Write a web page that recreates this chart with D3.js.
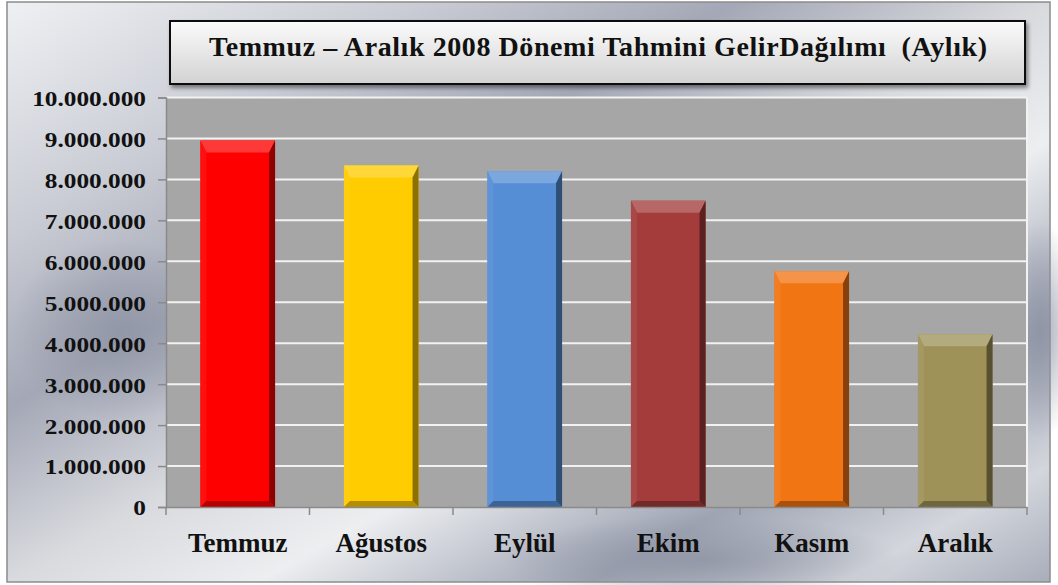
<!DOCTYPE html>
<html>
<head>
<meta charset="utf-8">
<script src="https://cdn.jsdelivr.net/npm/d3@7"></script>
<style>
  body { margin: 0; background: #ffffff; }
  text { font-family: "Liberation Serif", "Times New Roman", serif; font-weight: bold; fill: #111; }
</style>
</head>
<body>
<svg class="chart"></svg>
<script>
/*Chart data*/
const months = ["Temmuz", "Ağustos", "Eylül", "Ekim", "Kasım", "Aralık"]
const income = [8950000, 8340000, 8200000, 7480000, 5760000, 4220000]
const barColors = ["#ff0000", "#ffcc00", "#558ed5", "#a33c3a", "#f27514", "#9e9259"]
const yTicks = [0, 1e6, 2e6, 3e6, 4e6, 5e6, 6e6, 7e6, 8e6, 9e6, 1e7]
const title = "Temmuz – Aralık 2008 Dönemi Tahmini GelirDağılımı  (Aylık)"

const width = 1058, height = 585
const plot = { left: 166, right: 1027, top: 97.5, bottom: 507 }

var svg = d3.select(".chart")
    .attr("width", width)
    .attr("height", height)

var defs = svg.append("defs")

/*Silver background gradient*/
var bg = defs.append("linearGradient")
    .attr("id", "bgGrad")
    .attr("x1", "0").attr("y1", "0").attr("x2", "1").attr("y2", "1")
;[["0", "#eef0f3"], ["0.2", "#c9ccd4"], ["0.35", "#a4a8b6"], ["0.5", "#d8dade"],
  ["0.62", "#eceef0"], ["0.78", "#9fa4b3"], ["0.9", "#d3d6dc"], ["1", "#a8adba"]]
  .forEach(s => bg.append("stop").attr("offset", s[0]).attr("stop-color", s[1]))

var spot = defs.append("radialGradient").attr("id", "spotGrad")
spot.append("stop").attr("offset", "0").attr("stop-color", "#8d92a3").attr("stop-opacity", 0.8)
spot.append("stop").attr("offset", "1").attr("stop-color", "#8d92a3").attr("stop-opacity", 0)

var titleGrad = defs.append("linearGradient")
    .attr("id", "titleGrad")
    .attr("x1", "0").attr("y1", "0").attr("x2", "0").attr("y2", "1")
titleGrad.append("stop").attr("offset", "0").attr("stop-color", "#fbfbfb")
titleGrad.append("stop").attr("offset", "1").attr("stop-color", "#d2d2d2")

var shadow = defs.append("filter").attr("id", "shadow")
    .attr("x", "-5%").attr("y", "-20%").attr("width", "110%").attr("height", "150%")
shadow.append("feDropShadow").attr("dx", 2).attr("dy", 3).attr("stdDeviation", 2)
    .attr("flood-color", "#000").attr("flood-opacity", 0.45)

/*Chart area background*/
svg.append("rect")
    .attr("x", 7).attr("y", 2).attr("width", 1043).attr("height", 580)
    .attr("fill", "url(#bgGrad)")
    .attr("stroke", "#8c8c8c").attr("stroke-width", 1.5)

svg.append("ellipse").attr("cx", 120).attr("cy", 330).attr("rx", 110).attr("ry", 90)
    .attr("fill", "url(#spotGrad)")
svg.append("ellipse").attr("cx", 700).attr("cy", 560).attr("rx", 200).attr("ry", 45)
    .attr("fill", "url(#spotGrad)")
svg.append("ellipse").attr("cx", 1040).attr("cy", 330).attr("rx", 40).attr("ry", 110)
    .attr("fill", "url(#spotGrad)")

/*Scales*/
var x = d3.scaleBand()
    .domain(months)
    .range([plot.left, plot.right])
    .paddingInner(0.48)
    .paddingOuter(0.24)

var y = d3.scaleLinear()
    .domain([0, 1e7])
    .range([plot.bottom, plot.top])

/*Plot area*/
svg.append("rect")
    .attr("x", plot.left).attr("y", plot.top)
    .attr("width", plot.right - plot.left).attr("height", plot.bottom - plot.top)
    .attr("fill", "#a6a6a6")

/*Gridlines*/
svg.append("g")
    .selectAll("line")
    .data(yTicks.slice(1))
    .enter()
    .append("line")
      .attr("x1", plot.left).attr("x2", plot.right)
      .attr("y1", d => y(d)).attr("y2", d => y(d))
      .attr("stroke", "#f2f2f2").attr("stroke-width", 2)

svg.append("line")
    .attr("x1", plot.right).attr("x2", plot.right)
    .attr("y1", plot.top).attr("y2", plot.bottom)
    .attr("stroke", "#f2f2f2").attr("stroke-width", 2)

/*Bars with a bevel look*/
var bw = x.bandwidth(), bx = 6, btop = 12, bbot = 6
var bars = svg.append("g")
    .selectAll("g")
    .data(months)
    .enter()
    .append("g")

bars.append("rect")
    .attr("x", d => x(d))
    .attr("y", (d, i) => y(income[i]))
    .attr("width", bw)
    .attr("height", (d, i) => y(0) - y(income[i]))
    .attr("fill", (d, i) => barColors[i])

function poly (pts) { return pts.map(p => p.join(",")).join(" ") }

/*top bevel*/
bars.append("polygon")
    .attr("points", (d, i) => {
      var l = x(d), r = x(d) + bw, t = y(income[i])
      return poly([[l, t], [r, t], [r - bx, t + btop], [l + bx, t + btop]])
    })
    .attr("fill", (d, i) => d3.interpolateRgb(barColors[i], "#ffffff")(0.22))
/*left bevel*/
bars.append("polygon")
    .attr("points", (d, i) => {
      var l = x(d), t = y(income[i]), b = y(0)
      return poly([[l, t], [l + bx, t + btop], [l + bx, b - bbot], [l, b]])
    })
    .attr("fill", (d, i) => d3.interpolateRgb(barColors[i], "#ffffff")(0.06))
/*right bevel*/
bars.append("polygon")
    .attr("points", (d, i) => {
      var r = x(d) + bw, t = y(income[i]), b = y(0)
      return poly([[r, t], [r - bx, t + btop], [r - bx, b - bbot], [r, b]])
    })
    .attr("fill", (d, i) => d3.interpolateRgb(barColors[i], "#000000")(0.45))
/*bottom bevel*/
bars.append("polygon")
    .attr("points", (d, i) => {
      var l = x(d), r = x(d) + bw, b = y(0)
      return poly([[l, b], [l + bx, b - bbot], [r - bx, b - bbot], [r, b]])
    })
    .attr("fill", (d, i) => d3.interpolateRgb(barColors[i], "#000000")(0.3))

/*Y axis*/
var fmt = d3.formatLocale({ decimal: ",", thousands: ".", grouping: [3], currency: ["", ""] }).format(",")
var yAxis = svg.append("g")
    .attr("transform", "translate(" + plot.left + ",0)")
    .call(d3.axisLeft(y).tickValues(yTicks).tickSize(8).tickPadding(12).tickFormat(fmt))
yAxis.select(".domain").attr("stroke", "#8a8a8a").attr("stroke-width", 1.5)
yAxis.selectAll(".tick line").attr("stroke", "#8a8a8a").attr("stroke-width", 1.5)
yAxis.selectAll(".tick text")
    .style("font-size", "22px")
    .style("font-family", "Liberation Serif")
    .attr("fill", "#111")
    .attr("dy", "0.36em")
    .each(function () {
      var w = this.getComputedTextLength()
      d3.select(this).attr("textLength", w * 1.15).attr("lengthAdjust", "spacingAndGlyphs")
    })

/*X axis*/
var xAxis = svg.append("g")
    .attr("transform", "translate(0," + plot.bottom + ")")
    .call(d3.axisBottom(x).tickSize(0).tickPadding(37))
xAxis.select(".domain").attr("stroke", "#8a8a8a").attr("stroke-width", 1.5)
xAxis.selectAll(".tick text")
    .style("font-size", "27px")
    .style("font-family", "Liberation Serif")
    .attr("fill", "#111")
    .attr("dy", "0.3em")

/*tick marks between categories*/
xAxis.append("g")
    .selectAll("line")
    .data(months.concat(["end"]))
    .enter()
    .append("line")
      .attr("x1", (d, i) => plot.left + i * x.step())
      .attr("x2", (d, i) => plot.left + i * x.step())
      .attr("y1", 0).attr("y2", 8)
      .attr("stroke", "#8a8a8a").attr("stroke-width", 1.5)

/*Title box*/
svg.append("rect")
    .attr("x", 170).attr("y", 21).attr("width", 855).attr("height", 63)
    .attr("fill", "url(#titleGrad)")
    .attr("stroke", "#111").attr("stroke-width", 2)
    .attr("filter", "url(#shadow)")

svg.append("text")
    .attr("x", 598).attr("y", 56)
    .attr("text-anchor", "middle")
    .attr("textLength", 778)
    .attr("lengthAdjust", "spacing")
    .style("font-size", "28px")
    .style("white-space", "pre")
    .text(title)
</script>
</body>
</html>
